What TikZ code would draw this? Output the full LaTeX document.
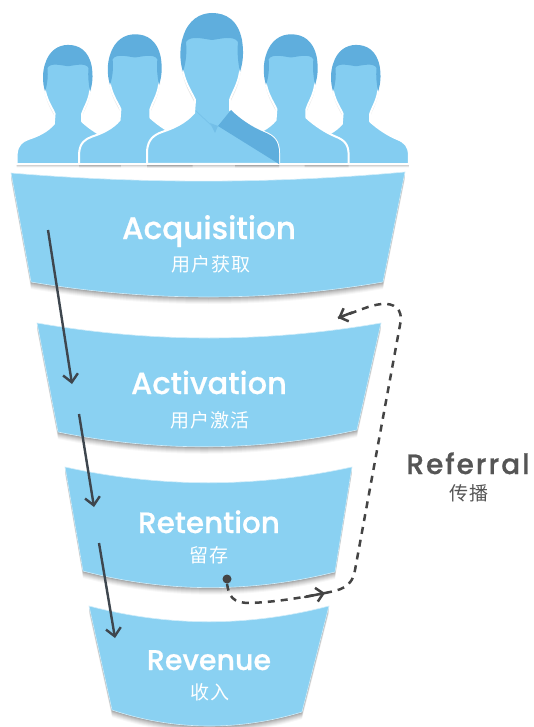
\documentclass[tikz,border=0pt]{standalone}
\usepackage{fontspec}
\usetikzlibrary{arrows.meta}
\newfontfamily\popfont[FakeBold=0.6]{Poppins Medium}
\newfontfamily\popspaced[LetterSpace=7,FakeBold=0.8]{Poppins Medium}
\newfontfamily\cjkfont[LetterSpace=6]{Noto Sans CJK SC}
\definecolor{bandblue}{HTML}{8AD1F2}
\definecolor{bodyblue}{HTML}{84CDF1}
\definecolor{hairblue}{HTML}{5FAEDD}
\definecolor{arrowgray}{HTML}{3E464E}
\definecolor{dashgray}{HTML}{444444}
\definecolor{refgray}{HTML}{555555}
\tikzset{
  x=1pt,y=-1pt,
  bandtitle/.style={anchor=base,text=white,font=\popfont\fontsize{#1}{#1}\selectfont},
  bandsub/.style={anchor=center,text=white,font=\cjkfont\fontsize{19}{19}\selectfont},
  flowarrow/.style={draw=arrowgray,line width=2.4pt,-{Straight Barb[length=8pt,width=15pt,line width=2.4pt]}},
  refdash/.style={draw=dashgray,line width=2.5pt,dash pattern=on 7pt off 6pt},
  refhead/.style={draw=dashgray,line width=2.5pt,line cap=round,-{Straight Barb[length=7pt,width=14pt,line width=2.5pt]}},
}
% head outline, shared by the figure and its hair
\def\headtop{(-29,-93) .. controls (-33,-105) and (-32,-120) .. (-29,-128) .. controls (-24,-145) and (-12,-152) .. (0,-152) .. controls (14,-152) and (26,-145) .. (30,-125) .. controls (32,-112) and (31,-103) .. (28,-93)}
\def\personbody{(-65,-1) -- (-65,-14) .. controls (-64,-26) and (-58,-30) .. (-50,-33) .. controls (-38,-37) and (-27,-42) .. (-18,-52) -- (-17,-65) .. controls (-20,-72) and (-26,-80) .. \headtop .. controls (26,-80) and (20,-72) .. (18,-65) -- (18,-55) .. controls (28,-46) and (40,-38) .. (52,-33) .. controls (62,-29) and (67,-24) .. (67,-12) -- (67,-1) -- cycle}
\newcommand\person[3]{%
  \begin{scope}[shift={(#1,#2)},scale=#3]
    \foreach \d/\o in {4/.05,3/.07,2/.09,1/.12}
      \fill[black,opacity=\o,yshift=-\d pt] \personbody;
    \filldraw[fill=bodyblue,draw=white,line width=2pt,line join=round] \personbody;
    \fill[hairblue] \headtop .. controls (26,-103) and (25,-112) .. (26,-123) .. controls (22,-130) and (8,-126) .. (0,-125) .. controls (-8,-126) and (-22,-130) .. (-26,-123) .. controls (-25,-112) and (-26,-103) .. (-29,-93) -- cycle;
  \end{scope}}
\def\bandA{(11,173) .. controls (142,184) and (274,184) .. (405,172) -- (383,282) .. controls (268,302) and (150,302) .. (31,282) -- cycle}
\def\bandB{(37,323) .. controls (152,343) and (266,343) .. (381,323) -- (357,430) .. controls (258,452) and (157,452) .. (58,432) -- cycle}
\def\bandC{(65,467) .. controls (160,488) and (257,488) .. (352,467) -- (335,572) .. controls (251,593) and (167,593) .. (83,571) -- cycle}
\def\bandD{(89,606) .. controls (169,627) and (249,627) .. (329,606) -- (302,712) .. controls (239,731) and (175,731) .. (112,710) -- cycle}
\newcommand\bandfill[1]{%
  \foreach \d/\o in {7/.03,6/.04,5/.05,4/.05,3/.06,2/.08,1/.1}
    \fill[black,opacity=\o,yshift=-\d pt] #1;
  \filldraw[fill=bandblue,draw=white!60!bandblue,line width=.6pt] #1;}
\begin{document}
\begin{tikzpicture}
\useasboundingbox[fill=white] (0,0) rectangle (533,727);
% people, back to front
\person{68}{165}{.79}
\person{356}{165}{.79}
\person{135}{165}{.86}
\person{291}{165}{.86}
\person{212}{165}{1}
\begin{scope}[shift={(212,165)}]
  \fill[hairblue] (19,-55) .. controls (28,-46) and (40,-38) .. (52,-33) .. controls (62,-29) and (67,-24) .. (67,-12) -- (67,-1) -- (6,-39) -- cycle;
  \fill[hairblue!45!bodyblue] (-2,-42) -- (3,-32) -- (6,-39) -- cycle;
  \draw[hairblue!35!bodyblue,line width=.7pt] (-16,-54) -- (0,-39);
\end{scope}
% funnel bands
\bandfill{\bandA}
\bandfill{\bandB}
\bandfill{\bandC}
\bandfill{\bandD}
% labels
\node[bandtitle=31] (acq) at (209,239) {Acquisition};
\node[bandsub] (acqs) at (211,264) {用户获取};
\node[bandtitle=30.5] (act) at (209,394) {Activation};
\node[bandsub] (acts) at (210,420) {用户激活};
\node[bandtitle=29.5] (ret) at (209,533) {Retention};
\node[bandsub] (rets) at (209,555) {留存};
\node[bandtitle=28.5] (rev) at (209,670) {Revenue};
\node[bandsub] (revs) at (210,692) {收入};
\node[anchor=base,text=refgray,font=\popspaced\fontsize{28}{28}\selectfont] (refer) at (468,474) {Referral};
\node[anchor=center,text=refgray,font=\cjkfont\fontsize{19}{19}\selectfont] (refers) at (469,493) {传播};
% funnel flow arrows
\coordinate (a1s) at (48,230); \coordinate (a1e) at (72,384);
\coordinate (a2s) at (79,414); \coordinate (a2e) at (94,507);
\coordinate (a3s) at (99,543); \coordinate (a3e) at (115,638);
\draw[flowarrow] (a1s) -- (a1e);
\draw[flowarrow] (a2s) -- (a2e);
\draw[flowarrow] (a3s) -- (a3e);
% referral loop
\node[circle,fill=dashgray,minimum size=9pt,inner sep=0pt] (dot) at (227,579) {};
\coordinate (r1) at (325,593);
\coordinate (r2) at (338,318);
\draw[refdash] (dot.south) .. controls (229,596) and (232,603) .. (250,603) .. controls (275,602) and (300,598) .. (r1);
\draw[refhead] (305,597) -- (r1);
\draw[refdash] (r1) .. controls (340,590) and (352,588) .. (355,570) -- (400,325) .. controls (404,308) and (393,303) .. (382,304) .. controls (370,305) and (358,311) .. (r2);
\draw[refhead] (352,312.5) -- (r2);
\end{tikzpicture}
\end{document}
